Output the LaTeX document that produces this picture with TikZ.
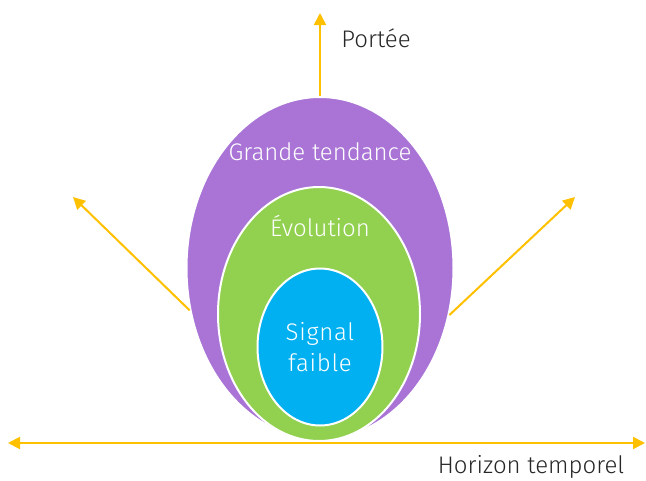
\documentclass[tikz,border=0pt]{standalone}
\usepackage{fontspec}
\setmainfont{Fira Sans Light}
\usetikzlibrary{arrows.meta,shapes.geometric}

\definecolor{tendance}{HTML}{A974D6}
\definecolor{evolution}{HTML}{92D050}
\definecolor{signal}{HTML}{00B0F0}
\definecolor{axecolor}{HTML}{FFC000}

\begin{document}
\begin{tikzpicture}[x=1pt,y=-1pt,
  >={Triangle[length=12pt,width=12pt]},
  zone/.style={ellipse,draw=white,line width=2pt,inner sep=0pt},
  axe/.style={draw=axecolor,line width=2pt},
  dedans/.style={text=white,font=\fontsize{24}{31}\selectfont},
  dehors/.style={text=black!85,font=\fontsize{24}{28}\selectfont}]
  \useasboundingbox (0,0) rectangle (646,480);

  % axes
  \coordinate (gauche) at (8,443);
  \coordinate (droite) at (645,443);
  \coordinate (haut) at (320,13);
  \coordinate (hautgauche) at (73,197);
  \coordinate (hautdroite) at (575,197);
  \draw[axe,<->] (gauche) -- (droite);

  % zones
  \draw (320,268) node[zone,fill=tendance,minimum width=267pt,minimum height=342pt] (grande) {};
  \draw (319,314) node[zone,fill=evolution,minimum width=202pt,minimum height=254pt] (evol) {};
  \draw (320,347) node[zone,fill=signal,minimum width=125pt,minimum height=157pt] (signal) {};

  \draw (320,152) node[dedans] (tgrande) {Grande tendance};
  \draw (320,226) node[dedans] (tevol) {Évolution};
  \draw (320,347) node[dedans,align=center,font=\fontsize{24}{31}\selectfont\addfontfeature{LetterSpace=3}] (tsignal) {Signal\\faible};

  \draw[axe,->] (grande.north) -- (haut);
  \draw[axe,->] (grande.198) -- (hautgauche);
  \draw[axe,->] (grande.-20) -- (hautdroite);

  \draw (376,38) node[dehors] (portee) {Portée};
  \draw (531,467) node[dehors] (horizon) {Horizon temporel};
\end{tikzpicture}
\end{document}
